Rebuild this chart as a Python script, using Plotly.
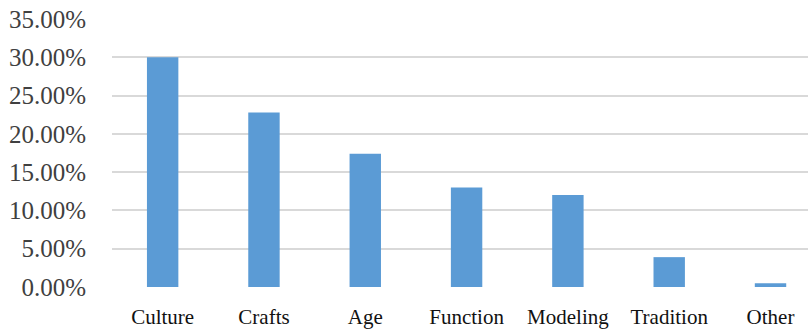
import plotly.graph_objects as go

categories = ["Culture", "Crafts", "Age", "Function", "Modeling", "Tradition", "Other"]
values = [30.0, 22.8, 17.4, 13.0, 12.0, 3.9, 0.5]
y_ticks = [0, 5, 10, 15, 20, 25, 30, 35]
y_tick_labels = ["0.00%", "5.00%", "10.00%", "15.00%", "20.00%", "25.00%", "30.00%", "35.00%"]

fig = go.Figure(go.Bar(
    x=list(range(len(categories))),
    y=values,
    marker=dict(color="#5b9bd5", line=dict(width=0)),
    width=0.31,
))

fig.update_layout(
    width=808, height=329,
    margin=dict(l=112, r=0, t=19, b=37),
    paper_bgcolor="white", plot_bgcolor="white",
    showlegend=False,
    font=dict(family="Liberation Serif, Times New Roman, serif"),
)
fig.update_xaxes(
    tickmode="array", tickvals=list(range(len(categories))), ticktext=categories,
    range=[-0.5, 6.37],
    showgrid=False, zeroline=False, showline=False,
    ticks="outside", ticklen=11, tickcolor="rgba(0,0,0,0)",
    tickfont=dict(size=21, color="#111111", family="Liberation Serif"),
)
fig.update_yaxes(
    range=[0, 35], tickmode="array", tickvals=y_ticks, ticktext=y_tick_labels,
    showgrid=True, gridcolor="#d9d9d9", gridwidth=2,
    zeroline=False, showline=False,
    ticks="outside", ticklen=20, tickcolor="rgba(0,0,0,0)",
    tickfont=dict(size=25, color="#404040", family="Liberation Serif"),
)

fig.write_html("out.html")
